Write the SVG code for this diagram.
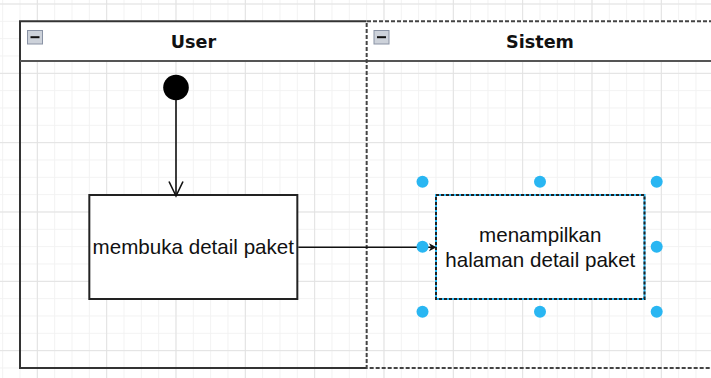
<svg xmlns="http://www.w3.org/2000/svg" width="711" height="378" viewBox="0 0 711 378">
<defs>
<pattern id="minor" patternUnits="userSpaceOnUse" x="2.17" y="3.5" width="17.333" height="17.333">
<path d="M0.5 0 V17.333 M0 0.5 H17.333" stroke="#f2f2f2" stroke-width="1" fill="none"/>
</pattern>
<pattern id="major" patternUnits="userSpaceOnUse" x="36.83" y="3.5" width="69.333" height="69.333">
<path d="M0.5 0 V69.333 M0 0.5 H69.333" stroke="#e2e2e2" stroke-width="1" fill="none"/>
</pattern>
</defs>
<style>
.title{font-family:"DejaVu Sans","Liberation Sans",sans-serif;font-weight:bold;font-size:17.6px;fill:#111;text-anchor:middle}
.lbl{font-family:"Liberation Sans",Arial,sans-serif;font-size:20.6px;fill:#111;text-anchor:middle}
.hdr{fill:#fff;stroke:none}
.act{fill:#fff;stroke:#222;stroke-width:2}
.edge{fill:none;stroke:#111;stroke-width:1.6}
.handle{fill:#29b6f2}
.tog{fill:#cdd2da;stroke:#8a93a5;stroke-width:1}
.minus{stroke:#111;stroke-width:2}
</style>
<rect width="711" height="378" fill="#fff"/>
<rect width="711" height="378" fill="url(#minor)"/>
<rect width="711" height="378" fill="url(#major)"/>

<g id="lane-user">
<rect class="hdr" x="20" y="21.33" width="346.67" height="39.7"/>
<path d="M366.67 21.33 H20 V368 H366.67" fill="none" stroke="#333" stroke-width="2"/>
<line x1="20" y1="61" x2="366.67" y2="61" stroke="#555" stroke-width="2"/>
<rect class="tog" x="27.5" y="30.5" width="15" height="13.5"/>
<line class="minus" x1="30.5" y1="37.2" x2="39.5" y2="37.2"/>
<text class="title" x="193.5" y="48.3">User</text>
</g>

<g id="lane-sistem">
<rect class="hdr" x="366.67" y="21.33" width="346" height="39.7"/>
<line x1="366.67" y1="61" x2="711" y2="61" stroke="#555" stroke-width="2"/>
<path d="M713 21.33 H366.67 V368 H713" fill="none" stroke="#444" stroke-width="2" stroke-dasharray="4 2"/>
<rect class="tog" x="374" y="30.5" width="15" height="13.5"/>
<line class="minus" x1="377" y1="37.2" x2="386" y2="37.2"/>
<text class="title" x="540" y="48.3">Sistem</text>
</g>

<g id="start">
<circle cx="176" cy="87.5" r="12.8" fill="#000"/>
</g>

<g id="action-membuka">
<rect class="act" x="89.33" y="195" width="208" height="104"/>
<text class="lbl" x="193.3" y="254.3">membuka detail paket</text>
</g>

<g id="action-menampilkan">
<rect x="436" y="195" width="208.5" height="104" fill="#fff" stroke="#29b6f2" stroke-width="2"/>
<rect x="436" y="195" width="208.5" height="104" fill="none" stroke="#222" stroke-width="2" stroke-dasharray="3 2"/>
<text class="lbl" x="540.3" y="241.7">menampilkan</text>
<text class="lbl" x="540.3" y="266.5">halaman detail paket</text>
</g>

<g id="connectors">
<line class="edge" x1="176" y1="100" x2="176" y2="195.5"/>
<polyline class="edge" points="169,181.5 176,196 183,181.5"/>
<line class="edge" x1="298.3" y1="247.3" x2="432" y2="247.3"/>
<polygon points="429,243.3 436.5,247.3 429,251.3 431,247.3" fill="#111"/>
</g>

<g id="selection-handles">
<circle class="handle" cx="422.5" cy="181.7" r="6"/>
<circle class="handle" cx="540" cy="181.7" r="6"/>
<circle class="handle" cx="656.7" cy="181.7" r="6"/>
<circle class="handle" cx="422.5" cy="246.7" r="6"/>
<circle class="handle" cx="656.7" cy="246.7" r="6"/>
<circle class="handle" cx="422.5" cy="311.7" r="6"/>
<circle class="handle" cx="540" cy="311.7" r="6"/>
<circle class="handle" cx="656.7" cy="311.7" r="6"/>
</g>
</svg>
